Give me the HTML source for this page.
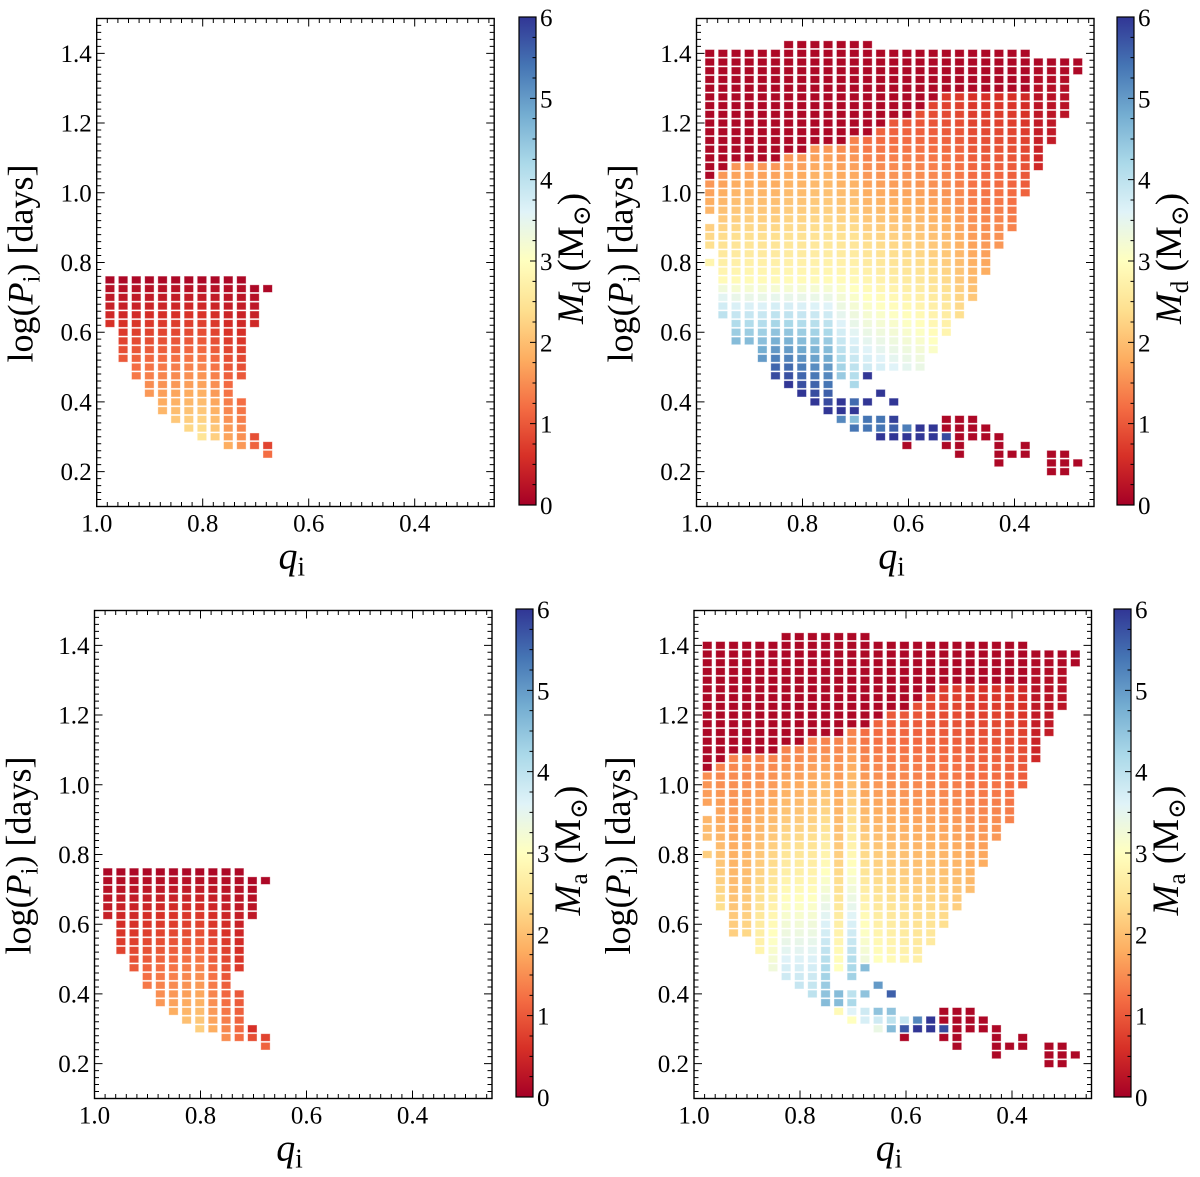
<!DOCTYPE html>
<html><head><meta charset="utf-8"><style>
html,body{margin:0;padding:0;background:#fff;}
svg{display:block;}
text{font-family:"Liberation Serif","Times New Roman","DejaVu Serif",serif;}
</style></head><body>
<svg id="fig" width="1200" height="1177" viewBox="0 0 1200 1177" xmlns="http://www.w3.org/2000/svg" font-family="'Liberation Serif', 'DejaVu Serif', serif">
<defs>
<linearGradient id="cmap" x1="0" y1="1" x2="0" y2="0">
<stop offset="0" stop-color="#a50026"/><stop offset="0.1" stop-color="#d73027"/><stop offset="0.2" stop-color="#f46d43"/><stop offset="0.3" stop-color="#fdae61"/><stop offset="0.4" stop-color="#fee090"/><stop offset="0.5" stop-color="#ffffbf"/><stop offset="0.6" stop-color="#e0f3f8"/><stop offset="0.7" stop-color="#abd9e9"/><stop offset="0.8" stop-color="#74add1"/><stop offset="0.9" stop-color="#4575b4"/><stop offset="1" stop-color="#313695"/>
</linearGradient>
</defs>
</svg>
<script>
// ---- data: each column = list of segments [kTop, kBot, vTop, vBot]; logP = 0.025*k, q = 0.975 - 0.0248*col
const tlCols = [
 [[30,25,0.1,0.6]],[[30,21,0.1,1.0]],[[30,19,0.1,1.3]],[[30,17,0.1,1.6]],[[30,15,0.1,1.9]],
 [[30,14,0.1,2.1]],[[30,13,0.1,2.3]],[[30,12,0.1,2.5]],[[30,12,0.1,2.2]],[[30,11,0.1,1.8]],
 [[30,19,0.1,1.0],[16,11,1.2,1.6]],[[29,25,0.1,0.5],[12,11,0.9,1.1]],[[29,29,0.1,0.1],[11,10,0.8,1.2]]
];
const blCols = [
 [[30,25,0.1,0.4]],[[30,21,0.1,0.8]],[[30,19,0.1,1.0]],[[30,17,0.1,1.3]],[[30,15,0.1,1.6]],
 [[30,14,0.1,1.8]],[[30,13,0.1,2.0]],[[30,12,0.1,2.2]],[[30,12,0.1,1.8]],[[30,11,0.1,1.5]],
 [[30,19,0.1,0.7],[16,11,1.0,1.2]],[[29,25,0.1,0.3],[12,11,0.6,0.9]],[[29,29,0.1,0.1],[11,10,0.8,1.1]]
];
const trCols = [
 [[56,42,0.1,0.1],[41,38,1.6,1.9],[36,34,2.2,2.4],[32,32,2.8,2.8]],
 [[56,43,0.1,0.1],[42,30,1.6,2.9],[29,26,3.3,4.0]],
 [[56,44,0.1,0.1],[43,30,1.6,2.9],[29,23,3.2,4.6]],
 [[56,44,0.1,0.1],[43,30,1.6,2.9],[29,23,3.2,4.6]],
 [[56,44,0.1,0.1],[43,30,1.6,2.9],[29,21,3.2,5.0]],
 [[56,44,0.1,0.1],[43,30,1.6,2.9],[29,19,3.2,5.8]],
 [[57,45,0.1,0.1],[44,30,1.6,2.9],[29,18,3.2,6]],
 [[57,45,0.1,0.1],[44,30,1.6,2.9],[29,17,3.2,6]],
 [[57,46,0.1,0.1],[45,30,1.6,2.9],[29,16,3.2,6]],
 [[57,46,0.1,0.1],[45,30,1.6,2.9],[29,15,3.2,6]],
 [[57,46,0.1,0.1],[45,30,1.5,2.9],[29,19,3.1,4.4],[16,15,6,6],[14,14,5.2,5.2]],
 [[57,47,0.1,0.1],[46,30,1.4,2.9],[29,18,3.0,4.2],[16,16,5.5,5.5],[15,15,6,6],[14,14,4.6,4.6],[13,13,5.4,5.4]],
 [[57,47,0.1,0.1],[46,20,1.2,3.8],[19,19,6,6],[16,16,6,6],[14,13,5.4,5.4]],
 [[56,48,0.1,0.1],[47,20,1.1,3.7],[17,17,6,6],[14,13,5.4,5.4],[12,12,6,6]],
 [[56,49,0.1,0.1],[48,20,1.0,3.6],[16,16,6,6],[14,14,5.9,5.9],[13,13,5.6,5.6],[12,12,6,6]],
 [[56,49,0.1,0.1],[48,20,1.0,3.5],[13,13,5.3,5.3],[12,12,6,6],[11,11,0.1,0.1]],
 [[56,50,0.1,0.1],[49,20,0.9,3.4],[13,12,6,6]],
 [[56,51,0.1,0.1],[50,22,0.8,3.1],[13,12,6,6]],
 [[56,52,0.1,0.1],[51,24,0.7,2.8],[14,13,0.1,0.1],[12,12,5.8,5.8],[11,11,0.1,0.1]],
 [[56,52,0.1,0.1],[51,26,0.7,2.4],[14,10,0.1,0.1]],
 [[56,52,0.1,0.1],[51,28,0.6,2.1],[14,12,0.1,0.1]],
 [[56,52,0.1,0.1],[51,31,0.6,1.8],[13,12,0.1,0.1]],
 [[56,52,0.1,0.1],[51,34,0.6,1.6],[12,9,0.1,0.1]],
 [[56,52,0.1,0.1],[51,36,0.6,1.4],[10,10,0.1,0.1]],
 [[56,52,0.1,0.1],[51,40,0.5,1.1],[11,10,0.1,0.1]],
 [[55,43,0.1,0.5]],
 [[55,46,0.1,0.35],[10,8,0.1,0.1]],
 [[55,49,0.1,0.25],[10,8,0.1,0.1]],
 [[55,54,0.1,0.1],[9,9,0.1,0.1]]
];
const brCols = [
 [[56,42,0.1,0.1],[41,38,1.5,1.7],[36,34,1.9,2.0],[32,32,2.2,2.2]],
 [[56,43,0.1,0.1],[42,26,1.4,2.4]],
 [[56,44,0.1,0.1],[43,23,1.4,2.2]],
 [[56,44,0.1,0.1],[43,23,1.4,2.3]],
 [[56,44,0.1,0.1],[43,21,1.4,2.8]],
 [[56,44,0.1,0.1],[43,19,1.4,3.3]],
 [[57,45,0.1,0.1],[44,18,1.4,3.8]],
 [[57,45,0.1,0.1],[44,17,1.4,3.9]],
 [[57,46,0.1,0.1],[45,16,1.4,4.0]],
 [[57,46,0.1,0.1],[45,15,1.4,4.6]],
 [[57,46,0.1,0.1],[45,19,1.4,3.0],[16,15,4.6,4.6],[14,14,2.9,2.9]],
 [[57,47,0.1,0.1],[46,18,1.4,4.3],[16,16,4.0,4.0],[15,15,4.2,4.2],[14,14,3.6,3.6],[13,13,3.0,3.0]],
 [[57,47,0.1,0.1],[46,20,1.2,3.3],[19,19,4.6,4.6],[16,16,4.5,4.5],[14,14,3.8,3.8],[13,13,3.7,3.7]],
 [[56,48,0.1,0.1],[47,20,1.1,3.0],[17,17,5.0,5.0],[14,14,4.5,4.5],[13,13,3.8,3.8],[12,12,3.4,3.4]],
 [[56,49,0.1,0.1],[48,20,1.0,2.9],[16,16,5.6,5.6],[14,14,4.5,4.5],[13,13,4.0,4.0],[12,12,4.6,4.6]],
 [[56,49,0.1,0.1],[48,20,1.0,2.8],[13,13,3.9,3.9],[12,12,5.7,5.7],[11,11,0.1,0.1]],
 [[56,50,0.1,0.1],[49,20,0.9,2.7],[13,13,5.2,5.2],[12,12,6,6]],
 [[56,51,0.1,0.1],[50,22,0.8,2.6],[13,12,6,6]],
 [[56,52,0.1,0.1],[51,24,0.7,2.4],[14,13,0.1,0.1],[12,12,5.8,5.8],[11,11,0.1,0.1]],
 [[56,52,0.1,0.1],[51,26,0.7,2.2],[14,10,0.1,0.1]],
 [[56,52,0.1,0.1],[51,28,0.6,2.0],[14,12,0.1,0.1]],
 [[56,52,0.1,0.1],[51,31,0.6,1.8],[13,12,0.1,0.1]],
 [[56,52,0.1,0.1],[51,34,0.6,1.6],[12,9,0.1,0.1]],
 [[56,52,0.1,0.1],[51,36,0.6,1.4],[10,10,0.1,0.1]],
 [[56,52,0.1,0.1],[51,40,0.5,1.1],[11,10,0.1,0.1]],
 [[55,43,0.1,0.5]],
 [[55,46,0.1,0.35],[10,8,0.1,0.1]],
 [[55,49,0.1,0.25],[10,8,0.1,0.1]],
 [[55,54,0.1,0.1],[9,9,0.1,0.1]]
];
const xTicks = [1.0, 0.8, 0.6, 0.4];
const yTicks = [0.2, 0.4, 0.6, 0.8, 1.0, 1.2, 1.4];
const cbTicks = [0, 1, 2, 3, 4, 5, 6];

const NS = "http://www.w3.org/2000/svg";
const FONT = "'Liberation Serif', 'DejaVu Serif', serif";
const svg = document.getElementById('fig');
const stops = ["#a50026","#d73027","#f46d43","#fdae61","#fee090","#ffffbf","#e0f3f8","#abd9e9","#74add1","#4575b4","#313695"];
function hex(h){return [parseInt(h.slice(1,3),16),parseInt(h.slice(3,5),16),parseInt(h.slice(5,7),16)];}
function cmap(v){
  let t = Math.max(0, Math.min(1, v/6)) * 10;
  let i = Math.min(9, Math.floor(t)), f = t - i;
  const a = hex(stops[i]), b = hex(stops[i+1]);
  return 'rgb(' + a.map((c,j)=>Math.round(c+(b[j]-c)*f)).join(',') + ')';
}
function el(tag, attrs, parent){
  const e = document.createElementNS(NS, tag);
  for (const k in attrs) e.setAttribute(k, attrs[k]);
  if (tag === 'text') e.setAttribute('font-family', FONT);
  (parent || svg).appendChild(e);
  return e;
}

function panel(cols, x0, y1, cbX, name, cbSub){
  const W = 397.5, H = 488;
  const y0 = y1 - H;
  const sx = q => x0 + (1 - q) * 530;
  const sy = p => y1 - (p - 0.1) * 348.6;
  const g = el('g', {});
  
  
  const cg = el('g', {}, g);
  
  
  cols.forEach((segs, c) => {
    const q = 0.975 - 0.0248 * c;
    segs.forEach(s => {
      const [kT, kB, vT, vB] = s;
      for (let k = kT; k >= kB; k--) {
        const v = kT === kB ? vT : vT + (vB - vT) * (kT - k) / (kT - kB);
        const r = el('rect', {x: (sx(q) - 4.7).toFixed(2), y: (sy(0.025 * k) - 3.8).toFixed(2), width: 9.4, height: 7.6, fill: cmap(v), stroke: 'rgba(255,255,255,0.5)', 'stroke-width': 0.8}, cg);
        
        
      }
    });
  });
  const fr = el('rect', {x: x0, y: y0, width: W, height: H, fill: 'none', stroke: '#000', 'stroke-width': 1.4}, g);
  
  
  let d = '';
  for (let i = 0; i <= 37; i++) {
    const q = 1 - i * 0.02; const x = sx(q);
    if (x > x0 + W + 0.5) break;
    const major = i % 10 === 0;
    const L = major ? 8 : 4.5;
    d += `M${x},${y1}v${-L}M${x},${y0}v${L}`;
  }
  for (let i = 0; i <= 70; i++) {
    const p = 0.1 + i * 0.02; const y = sy(p);
    if (y < y0 - 0.5) break;
    const major = (i - 5) % 10 === 0;
    const L = major ? 8 : 4.5;
    d += `M${x0},${y}h${L}M${x0 + W},${y}h${-L}`;
  }
  const tk = el('path', {d: d, stroke: '#000', 'stroke-width': 1, fill: 'none'}, g);
  
  
  xTicks.forEach(q => {
    const t = el('text', {x: sx(q), y: y1 + 25, 'font-size': 25, 'text-anchor': 'middle'}, g);
    t.textContent = q.toFixed(1);
    
    
  });
  yTicks.forEach(p => {
    const t = el('text', {x: x0 - 5, y: sy(p) + 8.5, 'font-size': 25, 'text-anchor': 'end'}, g);
    t.textContent = p.toFixed(1);
    
    
  });
  const xl = el('text', {x: x0 + 195, y: y1 + 62, 'font-size': 38, 'text-anchor': 'middle'}, g);
  xl.innerHTML = '<tspan font-style="italic">q</tspan><tspan font-size="27" dy="7">i</tspan>';
  
  
  const yl = el('text', {x: 0, y: 0, 'font-size': 36, 'text-anchor': 'middle', transform: `translate(${x0 - 64},${y0 + 245}) rotate(-90)`}, g);
  yl.innerHTML = 'log(<tspan font-style="italic">P</tspan><tspan font-size="25" dy="7">i</tspan><tspan dy="-7">) [days]</tspan>';
  
  
  const cy0 = y0 - 1.5, cH = H;
  const cb = el('rect', {x: cbX, y: cy0, width: 17, height: cH, fill: 'url(#cmap)', stroke: '#000', 'stroke-width': 1.2}, g);
  
  
  let cd = '';
  for (let i = 1; i < 24; i++) {
    const y = cy0 + cH - i * cH / 24;
    cd += `M${cbX + 17},${y}h${i % 4 === 0 ? -6 : -3.5}`;
  }
  const ct = el('path', {d: cd, stroke: '#000', 'stroke-width': 1, fill: 'none'}, g);
  
  
  cbTicks.forEach(v => {
    const t = el('text', {x: cbX + 21, y: cy0 + cH - v * cH / 6 + 9, 'font-size': 25}, g);
    t.textContent = v;
    
    
  });
  const cl = el('text', {x: 0, y: 0, 'font-size': 37, 'text-anchor': 'middle', transform: `translate(${cbX + 64},${y0 + 240}) rotate(-90)`}, g);
  cl.innerHTML = '<tspan font-style="italic">M</tspan><tspan font-size="25" dy="7">' + cbSub + '</tspan><tspan dy="-7"> (M</tspan><tspan font-size="25" dy="7">⊙</tspan><tspan dy="-7">)</tspan>';
  
  
}

panel(tlCols, 96.7, 506.5, 519, 'panel-top-left', 'd');
panel(trCols, 696.5, 506.5, 1117, 'panel-top-right', 'd');
panel(blCols, 94.5, 1098.5, 516, 'panel-bottom-left', 'a');
panel(brCols, 694, 1098.5, 1114, 'panel-bottom-right', 'a');
</script>
</body></html>
